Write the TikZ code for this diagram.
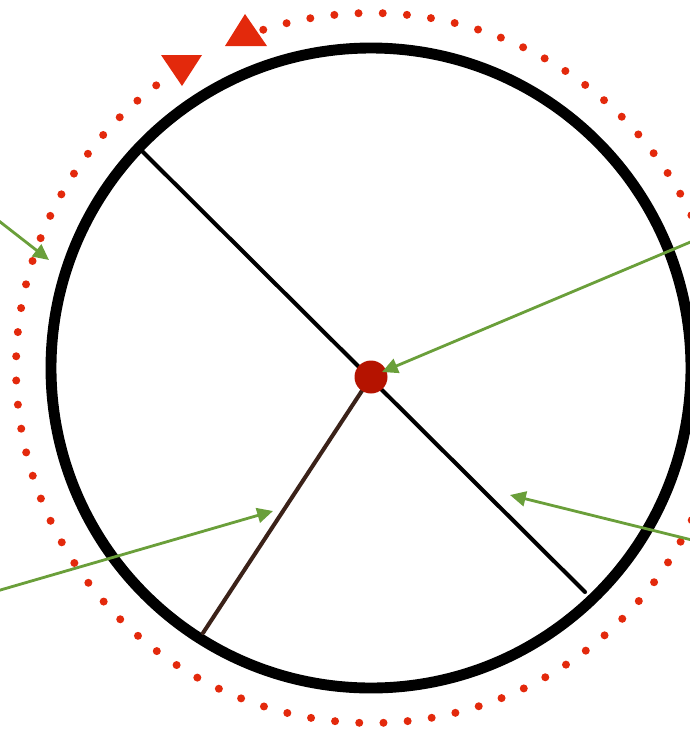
\documentclass[tikz,border=0pt]{standalone}
\usetikzlibrary{arrows.meta}
\definecolor{dotred}{HTML}{E3290C}
\definecolor{hubred}{HTML}{B51300}
\definecolor{armgreen}{HTML}{6A9F3A}
\definecolor{spoke}{HTML}{3B2219}

\tikzset{
  rim/.style={line width=6.2pt,black},
  chord/.style={line width=2.3pt,line cap=round},
  pointer/.style={->,armgreen,line width=1.6pt},
}

\begin{document}
\begin{tikzpicture}[x=0.02cm,y=-0.02cm,>={Triangle[length=9pt,width=8.5pt]}]
  \clip (0,0) rectangle (690,731);
  \coordinate (O) at (371,368);
  % dotted red ring, gap where the turn marks sit
  \foreach \i [evaluate=\i as \a using 1.9+\i*3.913] in {0,...,59,64,65,...,91}
    \fill[dotred] (O) ++(\a:355) circle(4);
  % arrows on the ring
  \fill[dotred] (161,55) -- (202,55) -- (182,86) -- cycle;
  \fill[dotred] (245,14) -- (267,46) -- (225,46) -- cycle;
  % wheel
  \draw[rim] (O) circle(320);
  \coordinate (dA) at (141,150);
  \coordinate (dB) at (585,592);
  \coordinate (rE) at (203,633);
  \draw[chord] (dA) -- (dB);
  \draw[chord,spoke] (371,377) -- (rE);
  \node[circle,fill=hubred,minimum size=33*0.02cm,inner sep=0pt] (hub) at (371,377) {};
  % labels' pointers
  \coordinate (inA) at (-10,214);
  \coordinate (tipA) at (49,260);
  \coordinate (inB) at (700,238);
  \coordinate (tipB) at (382,372);
  \coordinate (inC) at (700,542);
  \coordinate (tipC) at (510,495);
  \coordinate (inD) at (-10,593);
  \coordinate (tipD) at (273,511);
  \foreach \s/\t in {inA/tipA,inB/tipB,inC/tipC,inD/tipD}
    \draw[pointer] (\s) -- (\t);
\end{tikzpicture}
\end{document}
